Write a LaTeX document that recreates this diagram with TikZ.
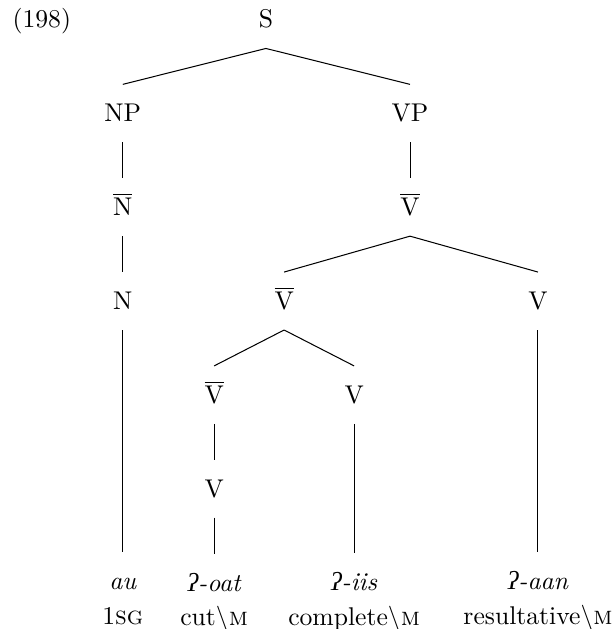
\documentclass[tikz,border=0pt]{standalone}
\usepackage{fontspec}
\newfontfamily\ipafont{Liberation Serif}
\usetikzlibrary{positioning}

\begin{document}
\begin{tikzpicture}[
    node distance=14pt,
    cat/.style={inner sep=0pt, text height=14.4pt, text depth=7.8pt},
    word/.style={cat, font=\itshape},
    gloss/.style={inner sep=0pt, text height=5.4pt, text depth=2pt},
    branch/.style={line width=0.4pt}
]
\useasboundingbox (0,0) rectangle (239.5pt,-245.3pt);

\node[anchor=base west, inner sep=0pt] (ex) at (4.7pt,-10.9pt) {(198)};
\node[cat, anchor=base] (S) at (103.7pt,-10.9pt) {S};

% subject
\node[cat, below=of S, xshift=-55.8pt] (NP) {NP};
\node[cat, below=of NP] (Nbar) {$\overline{\mbox{N}}$};
\node[cat, below=of Nbar] (N) {N};

% predicate
\node[cat, below=of S, xshift=56.2pt] (VP) {VP};
\node[cat, below=of VP] (Vbar) {$\overline{\mbox{V}}$};
\node[cat, below=of Vbar, xshift=-49.1pt] (Vbar2) {$\overline{\mbox{V}}$};
\node[cat, below=of Vbar, xshift=49.9pt] (Vres) {V};
\node[cat, below=of Vbar2, xshift=-27.3pt] (Vbar3) {$\overline{\mbox{V}}$};
\node[cat, below=of Vbar2, xshift=27.3pt] (Vcompl) {V};
\node[cat, below=of Vbar3] (Vcut) {V};

% words and glosses
\node[word, below=of Vcut] (oat) {{\ipafont ʔ}-oat};
\node[word, below=50.3pt of Vcompl] (iis) {{\ipafont ʔ}-iis};
\node[word, below=86.6pt of Vres] (aan) {{\ipafont ʔ}-aan};
\node[word, below=86.6pt of N] (au) {au};
\node[gloss, below=0pt of au] (au-gl) {1\textsc{sg}};
\node[gloss, below=0pt of oat] (oat-gl) {cut\textbackslash\textsc{m}};
\node[gloss, below=0pt of iis] (iis-gl) {complete\textbackslash\textsc{m}};
\node[gloss, below=0pt of aan] (aan-gl) {resultative\textbackslash\textsc{m}};

\draw[branch] (S.south) -- (NP.north);
\draw[branch] (S.south) -- (VP.north);
\draw[branch] (NP.south) -- (Nbar.north);
\draw[branch] (Nbar.south) -- (N.north);
\draw[branch] (N.south) -- (au.north);
\draw[branch] (VP.south) -- (Vbar.north);
\draw[branch] (Vbar.south) -- (Vbar2.north);
\draw[branch] (Vbar.south) -- (Vres.north);
\draw[branch] (Vbar2.south) -- (Vbar3.north);
\draw[branch] (Vbar2.south) -- (Vcompl.north);
\draw[branch] (Vbar3.south) -- (Vcut.north);
\draw[branch] (Vcut.south) -- (oat.north);
\draw[branch] (Vcompl.south) -- (iis.north);
\draw[branch] (Vres.south) -- (aan.north);
\end{tikzpicture}
\end{document}
